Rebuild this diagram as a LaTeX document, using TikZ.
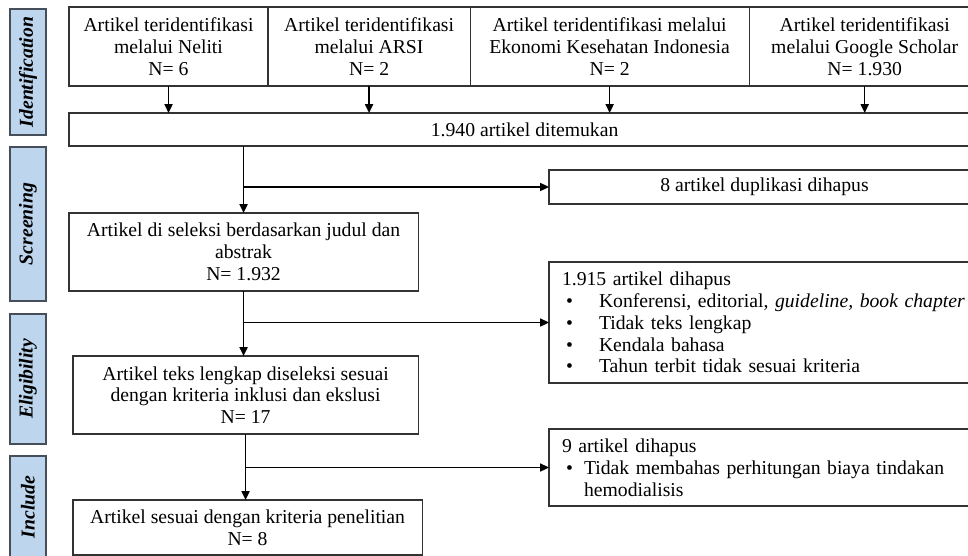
\documentclass[tikz,border=0pt]{standalone}
\usepackage{fontspec}
\setmainfont{Liberation Serif}
\usetikzlibrary{arrows.meta,positioning}
\definecolor{stageblue}{RGB}{189,213,237}
\definecolor{stageedge}{RGB}{70,78,90}
\tikzset{
  prismabox/.style={draw=black!80, line width=0.8pt, align=center, outer sep=0pt,
    font=\fontsize{14}{15.5}\selectfont, inner sep=2pt, anchor=north west},
  listbox/.style={prismabox, align=left, inner xsep=0.325cm},
  stagebox/.style={draw=stageedge, line width=1pt, fill=stageblue, rotate=90,
    minimum height=0.9cm, font=\fontsize{14}{15.5}\selectfont\bfseries\itshape},
  prismaarrow/.style={-{Triangle[length=2.2mm,width=2mm]}, line width=1.1pt}
}

\begin{document}
\begin{tikzpicture}[x=0.025cm, y=-0.025cm]
    \clip (0,0) rectangle (968,556);
    % stages
    \node[stagebox, minimum width=3.15cm] (stident) at (28,72) {Identification};
    \node[stagebox, minimum width=3.85cm] (stscreen) at (28,224) {Screening};
    \node[stagebox, minimum width=3.25cm] (stelig) at (28,379) {Eligibility};
    \node[stagebox, minimum width=2.55cm] (stinclude) at (28,507) {Include};
    % identification
    \node[prismabox, minimum width=4.975cm, minimum height=1.975cm] (neliti) at (69,7) {Artikel teridentifikasi\\melalui Neliti\\N= 6};
    \node[prismabox, right=0pt of neliti, minimum width=5.05cm, minimum height=1.975cm] (arsi) {Artikel teridentifikasi\\melalui ARSI\\N= 2};
    \node[prismabox, right=0pt of arsi, minimum width=6.975cm, minimum height=1.975cm] (eki) {Artikel teridentifikasi melalui\\Ekonomi Kesehatan Indonesia\\N= 2};
    \node[prismabox, right=0pt of eki, minimum width=5.775cm, minimum height=1.975cm] (scholar) {Artikel teridentifikasi\\melalui Google Scholar\\N= 1.930};
    \node[prismabox, minimum width=22.775cm, minimum height=0.825cm] (found) at (69,113) {1.940 artikel ditemukan};
    % screening
    \node[prismabox, minimum width=10.775cm, minimum height=0.85cm] (dup) at (549,170) {8 artikel duplikasi dihapus};
    \node[prismabox, minimum width=8.725cm, minimum height=1.95cm] (select) at (69,213) {Artikel di seleksi berdasarkan judul dan\\abstrak\\N= 1.932};
    % eligibility
    \node[listbox, text width=10.125cm, minimum height=3.025cm] (exclone) at (549,262) {1.915 artikel dihapus\\
      \hspace*{0.1cm}\makebox[0.825cm][l]{\textbullet}Konferensi, editorial, \textit{guideline, book chapter}\\
      \hspace*{0.1cm}\makebox[0.825cm][l]{\textbullet}Tidak teks lengkap\\
      \hspace*{0.1cm}\makebox[0.825cm][l]{\textbullet}Kendala bahasa\\
      \hspace*{0.1cm}\makebox[0.825cm][l]{\textbullet}Tahun terbit tidak sesuai kriteria};
    \node[prismabox, minimum width=8.625cm, minimum height=1.95cm] (fulltext) at (73,356) {Artikel teks lengkap diseleksi sesuai\\dengan kriteria inklusi dan ekslusi\\N= 17};
    % include
    \node[listbox, text width=10.125cm, minimum height=1.925cm] (excltwo) at (549,429) {9 artikel dihapus\\
      \hspace*{0.1cm}\makebox[0.45cm][l]{\textbullet}Tidak membahas perhitungan biaya tindakan\\
      \hspace*{0.55cm}hemodialisis};
    \node[prismabox, minimum width=8.725cm, minimum height=1.375cm] (final) at (73,500) {Artikel sesuai dengan kriteria penelitian\\N= 8};
    % arrows
    \foreach \src in {neliti,arsi,eki,scholar}
      \draw[prismaarrow] (\src.south) -- (\src.south |- found.north);
    \draw[prismaarrow] (found.south -| select.north) -- (select.north);
    \draw[prismaarrow] (select.north |- dup.west) -- (dup.west);
    \draw[prismaarrow] (select.south) -- (select.south |- fulltext.north);
    \draw[prismaarrow] (select.south |- exclone.west) -- (exclone.west);
    \draw[prismaarrow] (fulltext.south) -- (fulltext.south |- final.north);
    \draw[prismaarrow] (fulltext.south |- excltwo.west) -- (excltwo.west);
  \end{tikzpicture}
\end{document}
